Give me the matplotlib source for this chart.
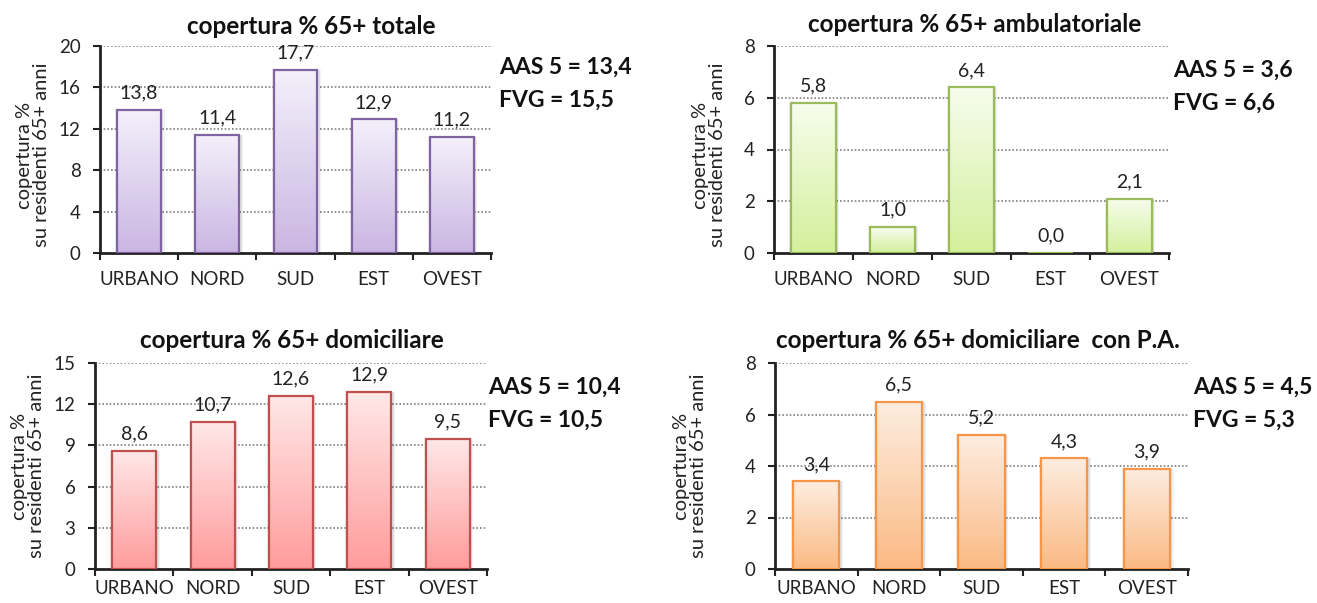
import numpy as np
import matplotlib
matplotlib.use("Agg")
import matplotlib.pyplot as plt
from matplotlib.colors import LinearSegmentedColormap

plt.rcParams['font.family'] = ['Lato', 'DejaVu Sans']

# ---- data ----
categories = ["URBANO", "NORD", "SUD", "EST", "OVEST"]

totale = [13.8, 11.4, 17.7, 12.9, 11.2]
ambulatoriale = [5.8, 1.0, 6.4, 0.0, 2.1]
domiciliare = [8.6, 10.7, 12.6, 12.9, 9.5]
domiciliare_pa = [3.4, 6.5, 5.2, 4.3, 3.9]

titles = [
    "copertura % 65+ totale",
    "copertura % 65+ ambulatoriale",
    "copertura % 65+ domiciliare",
    "copertura % 65+ domiciliare  con P.A.",
]
summary_aas = ["AAS 5 = 13,4", "AAS 5 = 3,6", "AAS 5 = 10,4", "AAS 5 = 4,5"]
summary_fvg = ["FVG = 15,5", "FVG = 6,6", "FVG = 10,5", "FVG = 5,3"]
y_ticks = [[0, 4, 8, 12, 16, 20], [0, 2, 4, 6, 8], [0, 3, 6, 9, 12, 15], [0, 2, 4, 6, 8]]
ylabel = "copertura %\nsu residenti 65+ anni"

series = [totale, ambulatoriale, domiciliare, domiciliare_pa]

# (edge, gradient top, gradient bottom)
palettes = [
    ("#8064A2", "#F4F0FA", "#CAB6E3"),
    ("#9BBB59", "#F7FDEE", "#D3F09C"),
    ("#C0504D", "#FFE8E8", "#FF9C9C"),
    ("#F79646", "#FDEDE0", "#FBBA84"),
]

W, H = 1317, 603
fig = plt.figure(figsize=(W / 100, H / 100), dpi=100)
fig.patch.set_facecolor("white")

# axes boxes in pixels: left, right, y of zero line, y of top
boxes = [
    (100, 491, 253, 46),
    (774, 1169, 253, 46),
    (95, 487, 569, 363),
    (775, 1188, 569, 363),
]
xlabel_pad = [13, 13, 8, 8]
title_pos = [(311, 26), (975, 25), (292, 341), (978, 341)]
summary_pos = [(499, 67, 100), (1173, 70, 103), (488, 387, 420), (1193, 387, 420)]
ylabel_pos = [(33, 155), (709, 155), (28, 466), (690, 466)]

BAR_W = 0.56


def fx(px):
    return px / W


def fy(py):
    return 1 - py / H


for i in range(4):
    l, r, y0, yt = boxes[i]
    ax = fig.add_axes([fx(l), fy(y0), (r - l) / W, (y0 - yt) / H])
    edge, ctop, cbot = palettes[i]
    cmap = LinearSegmentedColormap.from_list("g%d" % i, [cbot, ctop])
    vals = series[i]
    x = np.arange(len(categories))
    ymax = y_ticks[i][-1]

    # soft shadow around each bar
    for extra, alpha in ((0.07, 0.05), (0.04, 0.07)):
        ax.bar(x + 0.01, vals, width=BAR_W + extra, color="black", alpha=alpha,
               linewidth=0, zorder=1.5)

    bars = ax.bar(x, vals, width=BAR_W, facecolor="none", edgecolor=edge,
                  linewidth=1.6, zorder=3)
    grad = np.linspace(0, 1, 256).reshape(-1, 1)
    for b, v in zip(bars, vals):
        bx = b.get_x()
        im = ax.imshow(grad, cmap=cmap, origin="lower", aspect="auto",
                       extent=[bx, bx + b.get_width(), 0, max(v, 1e-6)],
                       zorder=2)
        im.set_clip_path(b)
        ax.annotate(f"{v:.1f}".replace(".", ","), (b.get_x() + b.get_width() / 2, v),
                    xytext=(0, 6), textcoords="offset points",
                    ha="center", va="bottom", fontsize=14, color="#222222",
                    zorder=4)
    ax.set_xlim(-0.5, len(categories) - 0.5)
    ax.set_ylim(0, ymax)
    ax.set_yticks(y_ticks[i])
    ax.set_yticklabels([str(t) for t in y_ticks[i]])
    for t in y_ticks[i][1:]:
        ax.axhline(t, color="#808080", linestyle=(0, (1, 1.2)), linewidth=1.2, zorder=1)
    ax.set_xticks(x)
    ax.set_xticklabels(categories)
    ax.set_xticks(np.arange(len(categories) + 1) - 0.5, minor=True)
    ax.tick_params(axis="x", which="major", length=0, pad=xlabel_pad[i],
                   labelsize=13.5, colors="#222222")
    ax.tick_params(axis="x", which="minor", length=5, width=1.5, direction="out",
                   color="#222222")
    ax.tick_params(axis="y", length=5, width=1.5, direction="out", labelsize=13.5,
                   colors="#222222", pad=9)
    for s in ("top", "right"):
        ax.spines[s].set_visible(False)
    for s in ("left", "bottom"):
        ax.spines[s].set_linewidth(2)
        ax.spines[s].set_color("#222222")
    ax.set_facecolor("none")

    tx, ty = title_pos[i]
    fig.text(fx(tx), fy(ty), titles[i], ha="center", va="center",
             fontsize=17.5, fontweight="bold", color="#111111")
    sx, sy1, sy2 = summary_pos[i]
    fig.text(fx(sx), fy(sy1), summary_aas[i], ha="left", va="center",
             fontsize=16.5, fontweight="bold", color="#111111")
    fig.text(fx(sx), fy(sy2), summary_fvg[i], ha="left", va="center",
             fontsize=16.5, fontweight="bold", color="#111111")
    lx, ly = ylabel_pos[i]
    fig.text(fx(lx), fy(ly), ylabel, rotation=90, ha="center", va="center",
             multialignment="center", fontsize=14.5, color="#222222",
             linespacing=1.0)

fig.savefig("out.png", dpi=100, facecolor="white")
